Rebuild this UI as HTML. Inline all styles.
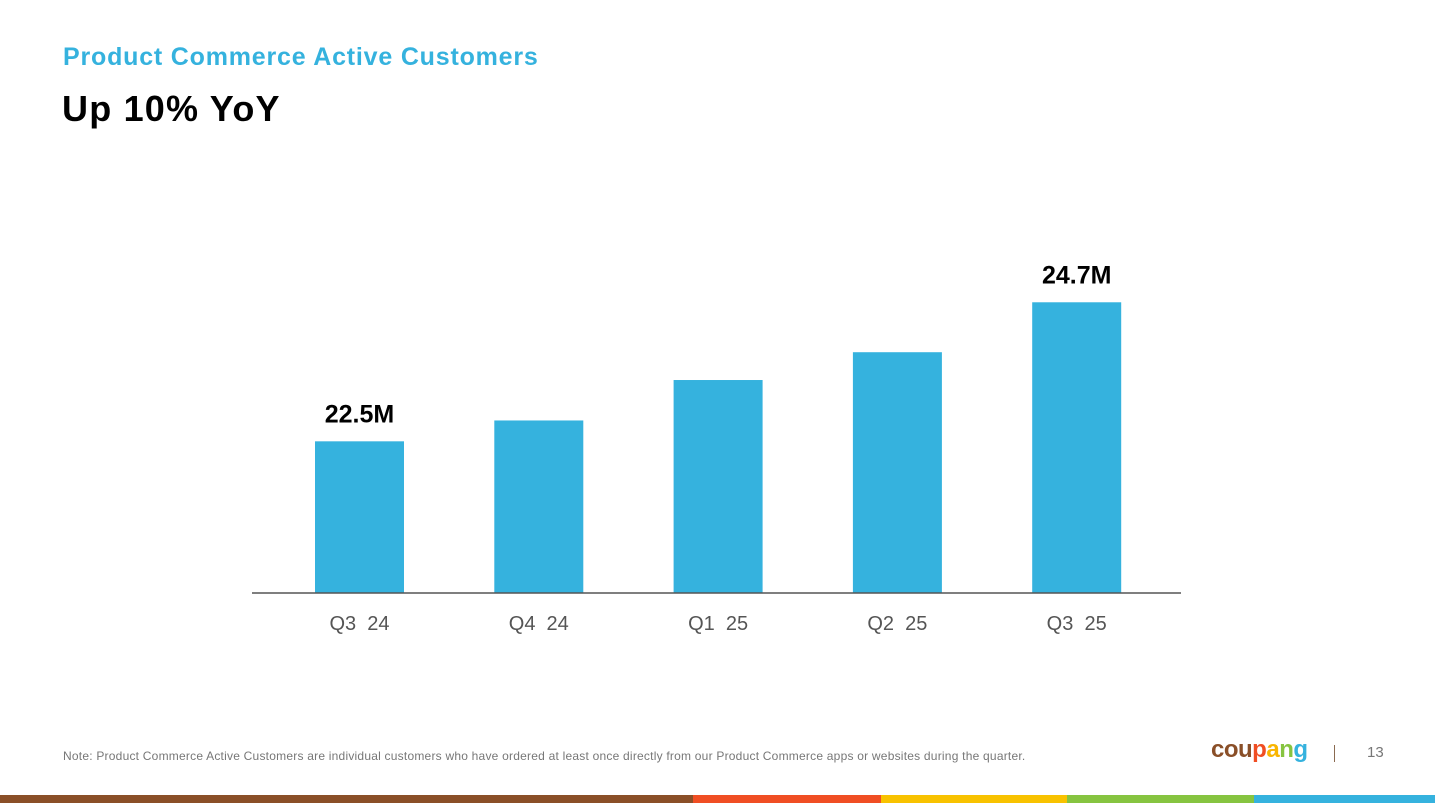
<!DOCTYPE html>
<html><head><meta charset="utf-8"><style>
body{margin:0;width:1435px;height:803px;background:#fff;position:relative;overflow:hidden;font-family:"Liberation Sans",sans-serif}
.abs{position:absolute}
</style></head><body>
<div class="abs" style="left:63px;top:43px;font-size:25px;font-weight:bold;color:#35b2de;letter-spacing:0.8px">Product Commerce Active Customers</div>
<div class="abs" style="left:62px;top:88px;font-size:36px;font-weight:bold;color:#000;letter-spacing:1.2px">Up 10% YoY</div>
<svg class="abs" style="left:0;top:0" width="1435" height="803">
<g id="bars"></g>
<line x1="252" y1="593" x2="1181" y2="593" stroke="#555" stroke-width="1.5"/>
</svg>
<div class="abs" style="left:63px;top:749px;font-size:12px;color:#777;letter-spacing:0.22px;white-space:nowrap">Note: Product Commerce Active Customers are individual customers who have ordered at least once directly from our Product Commerce apps or websites during the quarter.</div>
<div class="abs" style="left:1211px;top:736px;font-size:24px;font-weight:bold;letter-spacing:-0.5px"><span style="color:#8a4f28">cou</span><span style="color:#f04e23">p</span><span style="color:#f8b500">a</span><span style="color:#86c440">n</span><span style="color:#35b2de">g</span></div>
<div class="abs" style="left:1334px;top:745px;width:1px;height:17px;background:#8a6a50"></div>
<div class="abs" style="left:1367px;top:744px;font-size:15px;color:#777">13</div>
<div class="abs" style="left:0;top:795px;width:1435px;height:8px;display:flex">
<div style="width:693px;background:#8a4f28"></div><div style="width:188px;background:#f04e23"></div><div style="width:186px;background:#f8c200"></div><div style="width:187px;background:#86c440"></div><div style="flex:1;background:#35b2de"></div></div>
<script>
const categories=["Q3 24","Q4 24","Q1 25","Q2 25","Q3 25"];
const values=[22.5,22.83,23.47,23.91,24.7];
const labels=["22.5M","","","","24.7M"];
const yMin=20.1, pxPerUnit=63.2, baseY=593, x0=315, step=179.3, bw=89;
const y=v=>baseY-(v-yMin)*pxPerUnit;
const x=i=>x0+i*step;
const g=document.getElementById('bars');const ns="http://www.w3.org/2000/svg";
categories.forEach((c,i)=>{
 const r=document.createElementNS(ns,'rect');
 r.setAttribute('x',x(i));r.setAttribute('y',y(values[i]));r.setAttribute('width',bw);r.setAttribute('height',baseY-y(values[i]));r.setAttribute('fill','#35b2de');
 
 
 g.appendChild(r);
 const t=document.createElementNS(ns,'text');
 t.setAttribute('x',x(i)+bw/2);t.setAttribute('y',630);t.setAttribute('text-anchor','middle');t.setAttribute('font-size','20');t.setAttribute('fill','#555');t.setAttribute('font-family','Liberation Sans, sans-serif');
 t.textContent=c.replace(' ','\u00a0 ');
 
 
 g.appendChild(t);
 if(labels[i]){
  const l=document.createElementNS(ns,'text');
  l.setAttribute('x',x(i)+bw/2);l.setAttribute('y',y(values[i])-19);l.setAttribute('text-anchor','middle');l.setAttribute('font-size','25');l.setAttribute('font-weight','bold');l.setAttribute('fill','#000');l.setAttribute('font-family','Liberation Sans, sans-serif');
  l.textContent=labels[i];
  
  
  g.appendChild(l);
 }
});
</script>
</body></html>
